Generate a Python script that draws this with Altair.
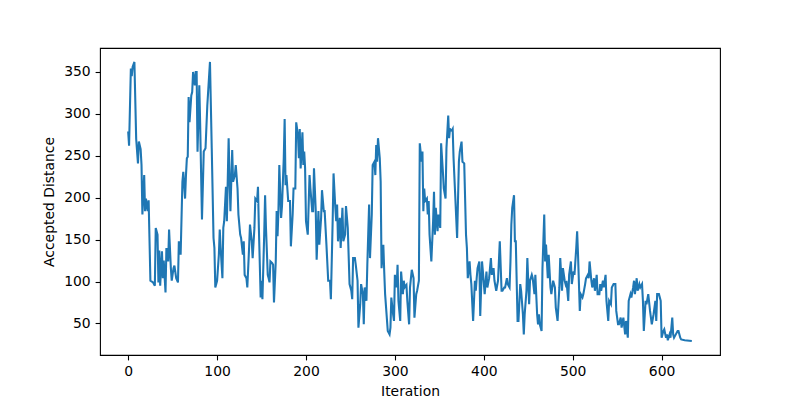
import altair as alt
import pandas as pd

iteration = [
    0, 1, 3, 4, 5, 7, 9, 11, 12, 14, 15, 16, 18, 19, 20, 22, 23, 25, 28, 30,
    31, 33, 34, 35, 36, 38, 39, 40, 42, 43, 45, 46, 48, 49, 51, 52, 54, 56, 57, 59,
    61, 62, 64, 65, 66, 67, 68, 69, 71, 72, 73, 75, 76, 77, 78, 80, 81, 83, 85, 87,
    89, 92, 94, 96, 97, 98, 100, 102, 103, 104, 106, 107, 108, 110, 111, 113, 114, 115, 117, 118,
    120, 121, 123, 124, 126, 127, 129, 130, 131, 133, 134, 136, 137, 139, 140, 142, 143, 145, 146, 147,
    149, 150, 151, 153, 154, 155, 157, 158, 159, 160, 162, 163, 164, 166, 167, 168, 169, 170, 172, 173,
    175, 176, 177, 178, 180, 182, 183, 185, 186, 188, 189, 191, 192, 193, 194, 196, 197, 198, 199, 200,
    202, 204, 205, 207, 208, 209, 211, 212, 214, 215, 217, 218, 220, 221, 223, 225, 227, 228, 230, 231,
    233, 234, 235, 236, 238, 239, 241, 242, 244, 245, 247, 249, 251, 252, 253, 255, 256, 258, 259, 261,
    262, 264, 265, 266, 268, 269, 271, 272, 274, 275, 277, 278, 279, 280, 281, 283, 284, 285, 287, 288,
    289, 292, 294, 295, 296, 298, 299, 300, 302, 303, 304, 306, 307, 309, 310, 311, 313, 314, 316, 317,
    319, 321, 322, 324, 325, 327, 328, 330, 331, 332, 333, 334, 336, 337, 338, 339, 341, 343, 344, 345,
    346, 348, 349, 351, 352, 354, 355, 357, 358, 360, 361, 362, 364, 365, 366, 370, 372, 373, 375, 376,
    378, 380, 381, 382, 384, 385, 386, 388, 390, 391, 392, 393, 395, 396, 398, 399, 401, 403, 404, 406,
    408, 409, 411, 412, 414, 416, 418, 420, 421, 423, 424, 426, 427, 429, 430, 431, 432, 434, 435, 436,
    438, 439, 441, 442, 444, 445, 446, 448, 449, 451, 452, 454, 455, 457, 458, 460, 461, 462, 463, 465,
    466, 468, 469, 470, 472, 473, 475, 476, 478, 480, 481, 483, 485, 486, 488, 489, 491, 492, 493, 495,
    496, 498, 499, 501, 502, 504, 505, 506, 508, 509, 511, 512, 514, 515, 517, 518, 519, 521, 522, 524,
    525, 527, 528, 530, 531, 532, 534, 535, 537, 538, 540, 541, 543, 544, 546, 548, 549, 551, 552, 554,
    555, 557, 559, 560, 562, 563, 565, 566, 568, 569, 570, 572, 573, 575, 576, 578, 579, 580, 582, 583,
    585, 587, 589, 591, 593, 594, 595, 597, 599, 600, 602, 603, 605, 606, 607, 609, 610, 612, 613, 614,
    616, 618, 619, 621, 622, 626, 634,
]

distance = [
    279, 262, 354, 345, 356, 362, 270, 241, 267, 258, 239, 180, 227, 184, 199, 184, 197, 101, 99, 95,
    164, 156, 99, 137, 95, 136, 104, 125, 87, 140, 124, 162, 116, 101, 116, 119, 104, 99, 148, 132,
    219, 231, 199, 227, 247, 249, 320, 290, 322, 326, 350, 334, 350, 350, 255, 334, 286, 174, 255, 259,
    310, 362, 259, 152, 140, 93, 101, 132, 162, 140, 104, 164, 172, 213, 172, 271, 223, 184, 257, 219,
    227, 239, 211, 180, 156, 152, 132, 148, 108, 104, 93, 140, 168, 148, 128, 164, 199, 196, 213, 164,
    81, 101, 79, 156, 203, 164, 108, 104, 99, 124, 122, 120, 75, 124, 184, 154, 184, 239, 176, 190,
    247, 294, 215, 227, 196, 196, 142, 180, 211, 211, 290, 274, 247, 282, 235, 278, 239, 255, 235, 172,
    156, 227, 211, 184, 184, 235, 184, 126, 184, 144, 176, 209, 184, 184, 144, 101, 101, 79, 172, 229,
    188, 172, 192, 148, 176, 140, 188, 148, 156, 190, 164, 97, 89, 79, 128, 128, 120, 101, 45, 73,
    97, 85, 49, 93, 77, 120, 192, 128, 180, 239, 243, 227, 263, 243, 271, 247, 219, 116, 144, 112,
    85, 41, 37, 45, 81, 61, 53, 108, 93, 120, 77, 53, 112, 85, 101, 93, 96, 77, 49, 93,
    114, 104, 57, 85, 89, 101, 265, 243, 255, 184, 211, 196, 199, 180, 196, 156, 124, 172, 207, 156,
    188, 160, 180, 164, 265, 231, 211, 199, 259, 298, 271, 282, 280, 282, 247, 152, 243, 255, 267, 243,
    241, 156, 140, 104, 124, 108, 97, 53, 101, 89, 104, 116, 124, 59, 124, 112, 85, 112, 93, 104,
    128, 108, 116, 101, 89, 101, 148, 89, 89, 93, 93, 104, 97, 93, 124, 168, 188, 203, 148, 148,
    53, 53, 97, 89, 61, 37, 61, 89, 128, 73, 101, 108, 104, 85, 108, 61, 49, 61, 49, 41,
    116, 180, 124, 144, 104, 132, 93, 85, 101, 93, 69, 53, 93, 128, 89, 116, 101, 97, 101, 77,
    108, 124, 97, 112, 108, 140, 160, 132, 65, 85, 81, 85, 97, 104, 108, 104, 124, 101, 93, 104,
    89, 108, 85, 85, 97, 89, 101, 93, 108, 77, 53, 77, 73, 93, 97, 97, 65, 49, 49, 57,
    45, 57, 37, 53, 33, 77, 85, 81, 93, 101, 85, 104, 89, 97, 93, 97, 77, 41, 77, 73,
    85, 65, 49, 61, 77, 53, 85, 85, 77, 33, 41, 43, 33, 37, 30, 37, 33, 57, 37, 33,
    37, 41, 41, 33, 31, 30, 29,
]

x_ticks = [0, 100, 200, 300, 400, 500, 600]
y_ticks = [50, 100, 150, 200, 250, 300, 350]

df = pd.DataFrame({"iteration": iteration, "distance": distance})

chart = (
    alt.Chart(df)
    .mark_line(color="#1f77b4", strokeWidth=2.08, clip=True)
    .encode(
        x=alt.X(
            "iteration:Q",
            scale=alt.Scale(domain=[-31.7, 665.7], nice=False, zero=False),
            axis=alt.Axis(values=x_ticks, title="Iteration", format="d", titlePadding=6),
        ),
        y=alt.Y(
            "distance:Q",
            scale=alt.Scale(domain=[12.4, 378.6], nice=False, zero=False),
            axis=alt.Axis(values=y_ticks, title="Accepted Distance", format="d", titlePadding=7),
        ),
    )
    .properties(
        width=620,
        height=307,
        autosize=alt.AutoSizeParams(type="none"),
        padding={"left": 92, "top": 40, "right": 72, "bottom": 45},
    )
    .configure_view(stroke="black", strokeWidth=1.1)
    .configure_axis(
        grid=False,
        domain=False,
        ticks=True,
        tickColor="black",
        tickSize=4.9,
        tickWidth=1.1,
        labelFont="DejaVu Sans",
        labelFontSize=13.9,
        labelColor="black",
        labelPadding=4.9,
        titleFont="DejaVu Sans",
        titleFontSize=13.9,
        titleFontWeight="normal",
        titleColor="black",
    )
)

chart.save("out.html", embed_options={"renderer": "svg", "actions": False})
